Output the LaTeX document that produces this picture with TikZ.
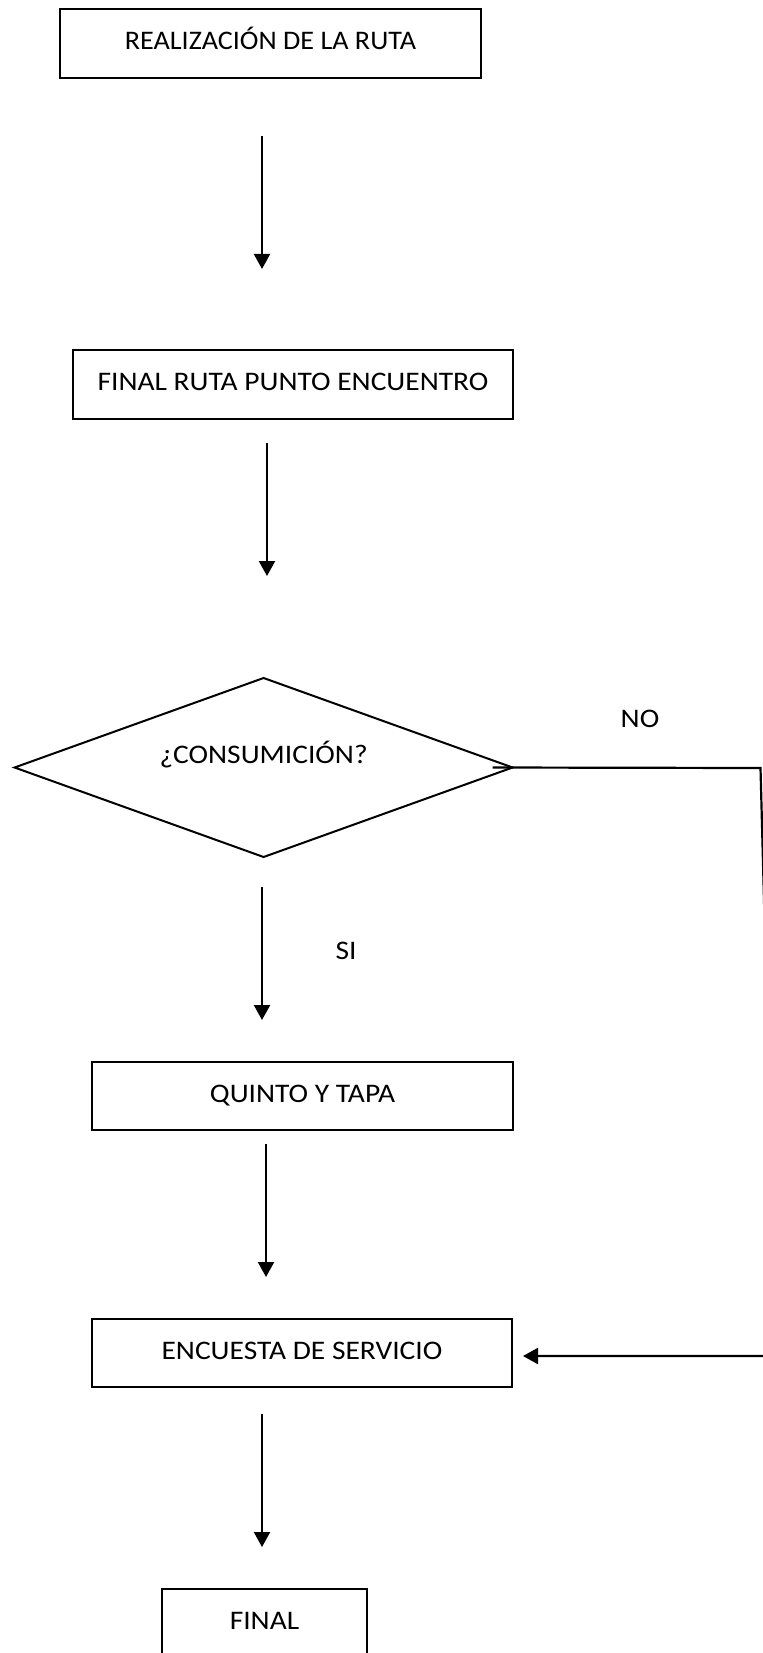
\documentclass[tikz,border=0pt]{standalone}
\usepackage{fontspec}
\setmainfont{Carlito}[FakeStretch=1.1]
\newfontfamily\titlefont{Carlito}[FakeStretch=1.05]
\usetikzlibrary{shapes.geometric,arrows.meta}
\begin{document}
\begin{tikzpicture}[x=0.5pt,y=-0.5pt,
  every node/.style={font=\fontsize{13.4pt}{16pt}\selectfont, outer sep=0pt, inner sep=0pt},
  box/.style={draw, line width=1pt, rectangle, text height=11.5pt, text depth=5.5pt},
  decision/.style={draw, line width=1pt, diamond, aspect=2.78, text height=4pt, text depth=8.5pt},
  arr/.style={line width=1.1pt, -{Triangle[width=8pt,length=7.5pt]}},
  lbl/.style={anchor=center}]
\fill[white] (0,0) rectangle (762,1653);
\useasboundingbox (0,0) rectangle (762,1653);

% process steps
\node[box, minimum width=210.5pt, minimum height=34.5pt, font=\titlefont\fontsize{13.4pt}{16pt}\selectfont] (b1) at (270.5,43.5) {REALIZACIÓN DE LA RUTA};
\node[box, minimum width=220pt, minimum height=34.5pt] (b2) at (293,384.5) {FINAL RUTA PUNTO ENCUENTRO};
\node[decision, minimum width=249pt, minimum height=89.5pt] (d) at (263.6,767.5) {¿CONSUMICIÓN?};
\node[box, minimum width=210.5pt, minimum height=34pt] (b3) at (302.5,1096) {QUINTO Y TAPA};
\node[box, minimum width=210pt, minimum height=34pt] (b4) at (302,1353) {ENCUESTA DE SERVICIO};
\node[box, minimum width=102.5pt, minimum height=34.5pt] (b5) at (264.5,1623.5) {FINAL};

% branch labels
\node[lbl] (no) at (640,718.5) {NO};
\node[lbl] (si) at (346,951) {SI};

% main flow
\draw[arr, shorten <=29pt, shorten >=40.5pt] (262,0 |- b1.south) -- (262,0 |- b2.north);
\draw[arr, shorten <=12pt, shorten >=51pt] (267,0 |- b2.south) -- (267,0 |- d.north);
\draw[arr, shorten <=15pt, shorten >=21pt] (262,0 |- d.south) -- (262,0 |- b3.north);
\draw[arr, shorten <=7pt, shorten >=21pt] (266,0 |- b3.south) -- (266,0 |- b4.north);
\draw[arr, shorten <=13.5pt, shorten >=21pt] (262,0 |- b4.south) -- (262,0 |- b5.north);

% "NO" branch, running along the right edge
\coordinate (nr) at (760.5,768);
\coordinate (nb) at (776,1356);
\draw[arr, shorten >=5.5pt] (d.east) ++(-20,0) -- (nr) -- (nb) -- (b4.east |- nb);
\end{tikzpicture}
\end{document}
